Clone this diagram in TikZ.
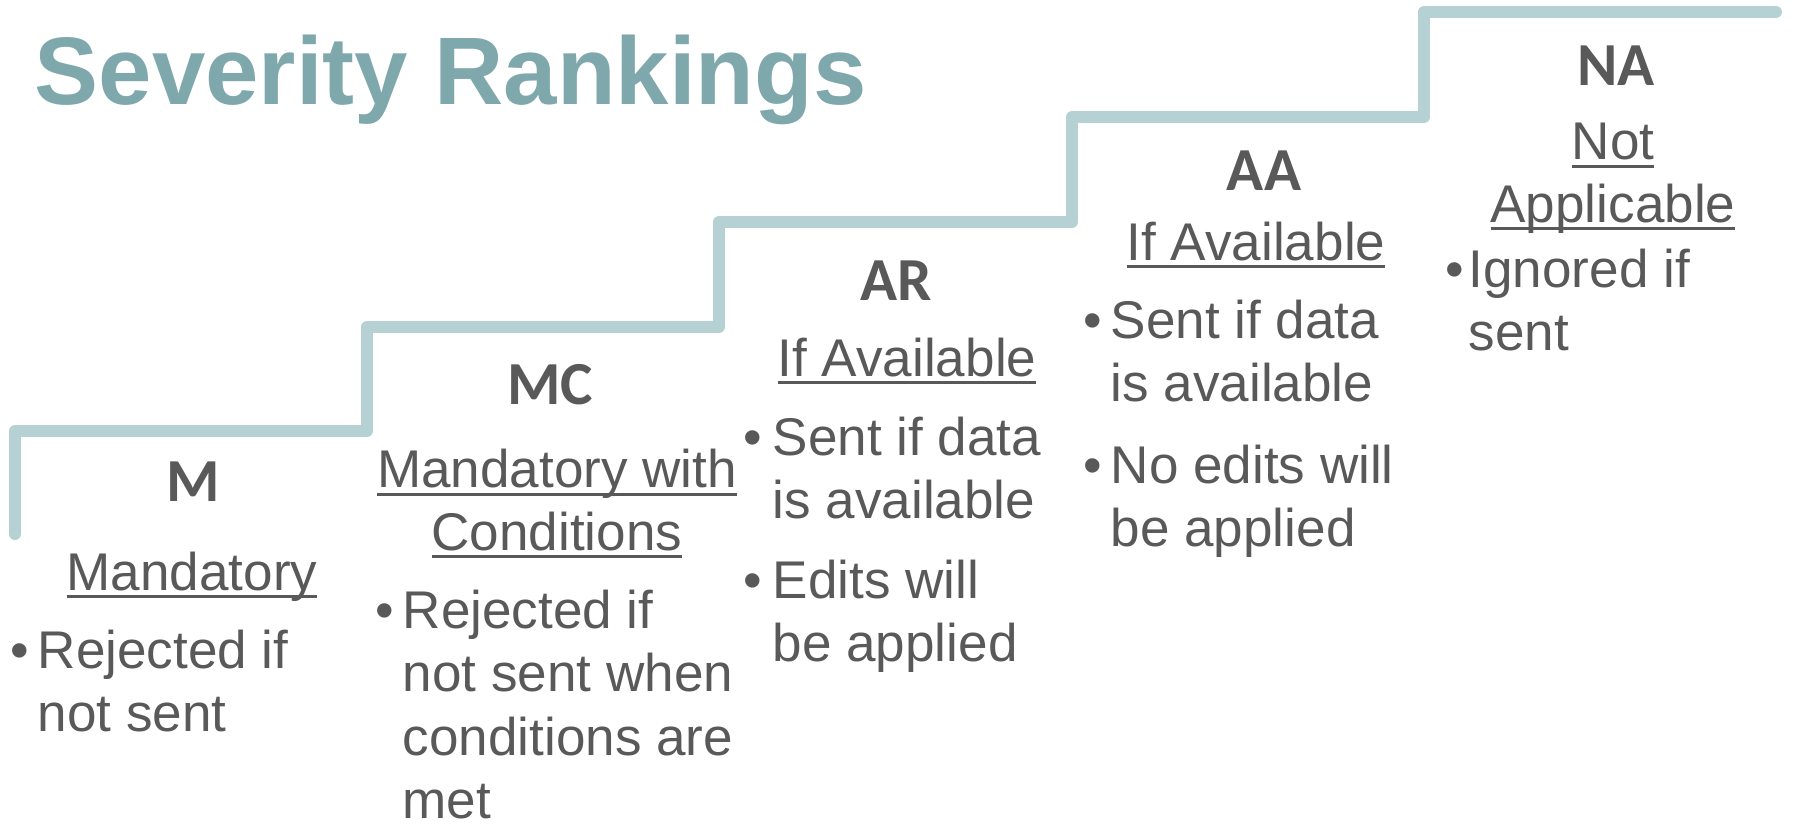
\documentclass[tikz,border=0pt]{standalone}
\usepackage{fontspec}
\setmainfont{Liberation Sans}
\newfontfamily\headfont{Carlito}
\usepackage{tikz}
\definecolor{titleteal}{RGB}{127,168,173}
\definecolor{stairs}{RGB}{181,209,211}
\definecolor{textgray}{RGB}{89,89,89}
\newsavebox\ulbox
\newcommand\uln[1]{\sbox\ulbox{#1}\rlap{\rule[-2.4pt]{\wd\ulbox}{0.85pt}}\usebox\ulbox}
\tikzset{
  rank/.style={anchor=base, inner sep=0pt, text=textgray,
    font=\headfont\bfseries\fontsize{17.4}{21}\selectfont},
  meaning/.style={anchor=base, inner sep=0pt, align=center, text=textgray,
    font=\fontsize{15.1}{17.7}\selectfont},
  item/.style={anchor=base west, inner sep=0pt, align=left, text=textgray,
    font=\fontsize{15.1}{18}\selectfont},
  bullet/.style={anchor=base, inner sep=0pt, text=textgray,
    font=\fontsize{15.1}{18}\selectfont},
}

\begin{document}
\begin{tikzpicture}
\useasboundingbox (0,0) rectangle (17.97,8.30);
\draw [stairs, line width=0.12cm, line cap=round, line join=round]
  (0.15,2.96) -- (0.15,3.99) -- (3.67,3.99) -- (3.67,5.03) -- (7.19,5.03)
  -- (7.19,6.08) -- (10.72,6.08) -- (10.72,7.13) -- (14.24,7.13)
  -- (14.24,8.18) -- (17.76,8.18);
\node [anchor=base west, inner sep=0pt, text=titleteal,
  font=\bfseries\fontsize{27.3}{32}\selectfont] (title) at (0.34,7.26) {Severity Rankings};

\node [rank] (m) at (1.93,3.29) {M};
\node [rank] (mc) at (5.50,4.26) {MC};
\node [rank] (ar) at (8.96,5.30) {AR};
\node [rank] (aa) at (12.64,6.40) {AA};
\node [rank] (na) at (16.16,7.45) {NA};

% two-line nodes sit on the baseline of their last line
\node [meaning] (m-name) at (1.92,2.40) {\uln{Mandatory}};
\node [meaning] (mc-name) at (5.57,2.80) {\uln{Mandatory with}\\\uln{Conditions}};
\node [meaning] (ar-name) at (9.07,4.54) {\uln{If Available}};
\node [meaning] (aa-name) at (12.56,5.70) {\uln{If Available}};
\node [meaning] (na-name) at (16.13,6.08) {\uln{Not}\\\uln{Applicable}};

\foreach \bx/\tx/\by/\n/\lines [count=\i] in {
  0.20/0.37/1.62/1/{Rejected if\\not sent},
  3.85/4.02/2.02/3/{Rejected if\\not sent when\\conditions are\\met},
  7.53/7.72/3.75/1/{Sent if data\\is available},
  7.53/7.72/2.32/1/{Edits will\\be applied},
  10.93/11.10/4.92/1/{Sent if data\\is available},
  10.93/11.10/3.47/1/{No edits will\\be applied},
  14.55/14.68/5.43/1/{Ignored if\\sent}}
{
  \node [bullet] (dot\i) at (\bx,\by) {\textbullet};
  \node [item] (text\i) at (\tx,\by-\n*0.635) {\lines};
}
\end{tikzpicture}
\end{document}
